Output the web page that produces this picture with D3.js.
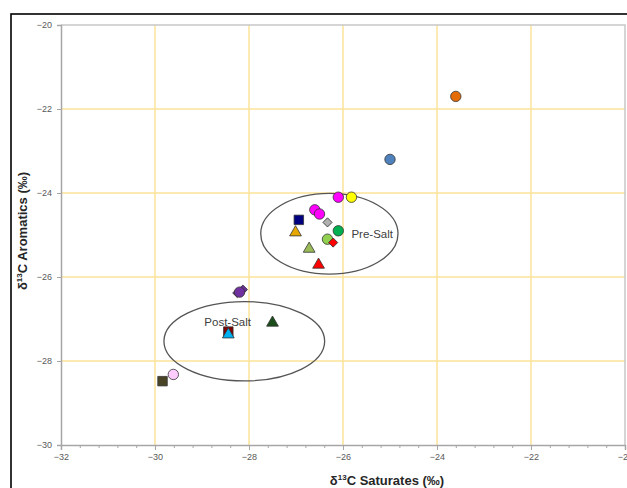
<!DOCTYPE html>
<html>
<head>
<meta charset="utf-8">
<script src="https://cdn.jsdelivr.net/npm/d3@7"></script>
<style>
  html, body { margin: 0; padding: 0; background: #fff; }
  svg { display: block; }
  text { font-family: "Liberation Sans", Arial, sans-serif; }
</style>
</head>
<body>
<svg id="chart" width="627" height="488"></svg>
<script>
// ---- data ----
const xTicks = [-32, -30, -28, -26, -24, -22, -20];
const yTicks = [-30, -28, -26, -24, -22, -20];
const satValues = [-23.60, -25.00, -26.10, -25.82, -26.60, -26.50, -26.33, -26.10, -26.33, -26.21, -26.94, -27.01, -26.72, -26.52,
                   -28.25, -28.13, -28.20, -27.50, -28.44, -28.44, -29.61, -29.84];
const aroValues = [-21.70, -23.20, -24.10, -24.10, -24.40, -24.50, -24.70, -24.90, -25.10, -25.18, -24.64, -24.94, -25.33, -25.71,
                   -26.38, -26.30, -26.36, -27.09, -27.30, -27.37, -28.32, -28.48];
const markerShapes = ["circle", "circle", "circle", "circle", "circle", "circle", "diamond", "circle", "circle", "diamond", "square", "triangle", "triangle", "triangle",
                      "diamond", "diamond", "circle", "triangle", "square", "triangle", "circle", "square"];
const markerColors = ["#e36c09", "#4f81bd", "#ff00ff", "#ffff00", "#ff00ff", "#ff00ff", "#b0b0b0", "#00b050", "#92d050", "#ff0000", "#000080", "#e6a800", "#9bbb59", "#ff0000",
                      "#7030a0", "#7030a0", "#7030a0", "#1a4d1a", "#800000", "#00b0f0", "#ffccff", "#4a4426"];
const groupNames = ["Pre-Salt", "Post-Salt"];
const groupCx = [-26.29, -28.10];
const groupCy = [-24.97, -27.53];
const groupRx = [1.46, 1.71];
const groupRy = [0.96, 0.945];
const labelX = [-25.82, -28.95];
const labelY = [-24.97, -27.08];

// ---- layout ----
const svg = d3.select("#chart");
const L = 61, R = 625, T = 25, B = 445;
const x = d3.scaleLinear().domain([-32, -20]).range([L, R]);
const y = d3.scaleLinear().domain([-30, -20]).range([B, T]);

// outer frame
svg.append("rect").attr("x", 11).attr("y", 14).attr("width", 640).attr("height", 500)
  .attr("fill", "none").attr("stroke", "#000").attr("stroke-width", 1.6);

// gridlines
const grid = svg.append("g");
grid.selectAll(".gx").data(xTicks.filter(d => d > -32 && d < -20)).enter().append("line")
  .attr("x1", d => x(d)).attr("x2", d => x(d)).attr("y1", T).attr("y2", B)
  .attr("stroke", "#fde39a").attr("stroke-width", 1.5);
grid.selectAll(".gy").data(yTicks.filter(d => d > -30 && d < -20)).enter().append("line")
  .attr("y1", d => y(d)).attr("y2", d => y(d)).attr("x1", L).attr("x2", R)
  .attr("stroke", "#fde39a").attr("stroke-width", 1.5);

// plot border (top, right)
svg.append("path").attr("d", `M${L},${T}H${R}V${B}`).attr("fill", "none")
  .attr("stroke", "#c8c8c8").attr("stroke-width", 1.5);

// axes
const xMinor = d3.range(-32, -19.99, 0.4).map(v => +v.toFixed(1));
const xAxisMinor = d3.axisBottom(x).tickValues(xMinor).tickSize(3).tickFormat("");
svg.append("g").attr("transform", `translate(0,${B})`).call(xAxisMinor)
  .call(g => g.select(".domain").remove())
  .call(g => g.selectAll("line").attr("stroke", "#a6a6a6"));
const xAxis = d3.axisBottom(x).tickValues(xTicks).tickSize(5).tickPadding(4).tickFormat(d3.format("d"));
svg.append("g").attr("transform", `translate(0,${B})`).call(xAxis)
  .call(g => g.select(".domain").attr("stroke", "#a6a6a6").attr("stroke-width", 1.5))
  .call(g => g.selectAll("line").attr("stroke", "#a6a6a6"))
  .call(g => g.selectAll("text").attr("fill", "#595959").attr("font-size", 9).attr("font-family", "Liberation Sans, Arial, sans-serif"));
const yAxis = d3.axisLeft(y).tickValues(yTicks).tickSize(4).tickPadding(5).tickFormat(d3.format("d"));
svg.append("g").attr("transform", `translate(${L},0)`).call(yAxis)
  .call(g => g.select(".domain").attr("stroke", "#a6a6a6").attr("stroke-width", 1.5))
  .call(g => g.selectAll("line").attr("stroke", "#a6a6a6"))
  .call(g => g.selectAll("text").attr("fill", "#595959").attr("font-size", 9).attr("font-family", "Liberation Sans, Arial, sans-serif"));

// axis titles
const xt = svg.append("text").attr("x", 387).attr("y", 485).attr("text-anchor", "middle")
  .attr("font-size", 13).attr("font-weight", "bold").attr("fill", "#262626");
xt.append("tspan").text("δ");
xt.append("tspan").text("13").attr("font-size", 8).attr("dy", -5);
xt.append("tspan").text("C Saturates (‰)").attr("dy", 5);
const yt = svg.append("text").attr("transform", "translate(27,231) rotate(-90)").attr("text-anchor", "middle")
  .attr("font-size", 13).attr("font-weight", "bold").attr("fill", "#262626");
yt.append("tspan").text("δ");
yt.append("tspan").text("13").attr("font-size", 8).attr("dy", -5);
yt.append("tspan").text("C Aromatics (‰)").attr("dy", 5);

// group ellipses
svg.append("g").selectAll("ellipse").data(groupNames).enter().append("ellipse")
  .attr("cx", (d, i) => x(groupCx[i])).attr("cy", (d, i) => y(groupCy[i]))
  .attr("rx", (d, i) => x(groupCx[i] + groupRx[i]) - x(groupCx[i]))
  .attr("ry", (d, i) => y(groupCy[i]) - y(groupCy[i] + groupRy[i]))
  .attr("fill", "none").attr("stroke", "#555").attr("stroke-width", 1.3);

// markers
const symType = { circle: d3.symbolCircle, square: d3.symbolSquare, triangle: d3.symbolTriangle, diamond: d3.symbolSquare };
const symSize = { circle: 85, square: 90, triangle: 60, diamond: 42 };
const symRot = { circle: 0, square: 0, triangle: 0, diamond: 45 };
svg.append("g").selectAll("path").data(satValues).enter().append("path")
  .attr("transform", (d, i) => `translate(${x(d)},${y(aroValues[i])}) rotate(${symRot[markerShapes[i]]})`)
  .attr("d", (d, i) => d3.symbol().type(symType[markerShapes[i]]).size(symSize[markerShapes[i]])())
  .attr("fill", (d, i) => markerColors[i])
  .attr("stroke", "#333").attr("stroke-width", 0.8);

// group labels
svg.append("g").selectAll("text").data(groupNames).enter().append("text")
  .attr("x", (d, i) => x(labelX[i])).attr("y", (d, i) => y(labelY[i]))
  .attr("dy", "0.35em").attr("font-size", 11.5).attr("fill", "#404040")
  .text(d => d);
</script>
</body>
</html>
